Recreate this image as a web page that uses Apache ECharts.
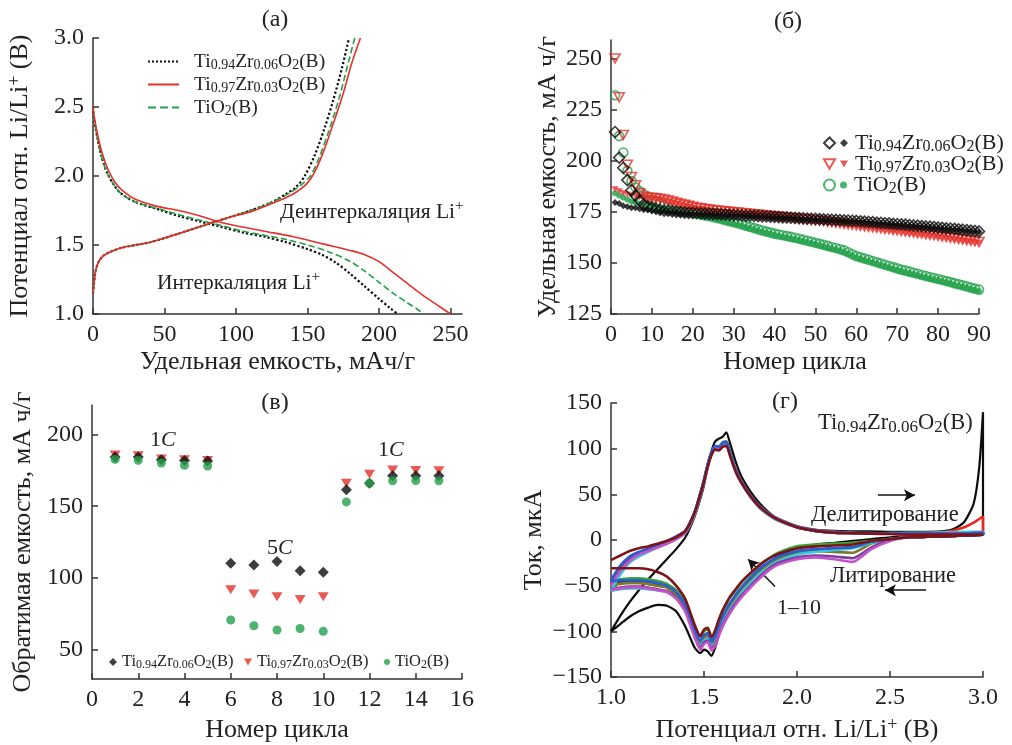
<!DOCTYPE html>
<html>
<head>
<meta charset="utf-8">
<title>TiO2(B) charts</title>
<style>
html,body{margin:0;padding:0;background:#fff;}
#main{width:1012px;height:745px;}
</style>
</head>
<body>
<div id="main"></div>
<script src="https://cdn.jsdelivr.net/npm/echarts@6/dist/echarts.min.js"></script>
<script>
// ---------- data ----------
// (a) charge / discharge profiles: [capacity mAh/g, potential V]
var dis94 = [[0,2.50],[1,2.40],[3,2.28],[6,2.14],[10,2.02],[15,1.93],[20,1.87],[30,1.81],[45,1.76],[60,1.71],[75,1.67],[90,1.63],[105,1.59],[120,1.56],[135,1.52],[150,1.47],[160,1.43],[170,1.37],[180,1.29],[190,1.20],[200,1.11],[208,1.04],[213,1.00]];
var dis97 = [[0,2.50],[1,2.42],[3,2.31],[6,2.18],[10,2.06],[15,1.96],[20,1.90],[30,1.83],[45,1.78],[60,1.75],[75,1.71],[87,1.67],[100,1.64],[120,1.60],[140,1.56],[160,1.51],[180,1.46],[190,1.43],[200,1.38],[210,1.30],[220,1.22],[230,1.14],[240,1.07],[250,1.00]];
var disTi = [[0,2.50],[1,2.40],[3,2.28],[6,2.14],[10,2.02],[15,1.93],[20,1.87],[30,1.81],[45,1.765],[60,1.72],[75,1.68],[90,1.64],[105,1.60],[120,1.57],[135,1.54],[150,1.50],[165,1.45],[180,1.38],[190,1.31],[200,1.23],[210,1.15],[220,1.08],[226,1.04],[231,1.00]];
var chg94 = [[0,1.15],[1,1.25],[2,1.32],[4,1.38],[7,1.42],[12,1.45],[20,1.48],[30,1.50],[40,1.52],[50,1.55],[65,1.60],[80,1.65],[95,1.70],[110,1.75],[125,1.81],[135,1.87],[142,1.92],[148,2.00],[155,2.15],[162,2.35],[168,2.55],[174,2.78],[179,3.00]];
var chg97 = [[0,1.15],[1,1.25],[2,1.32],[4,1.38],[7,1.42],[12,1.45],[20,1.48],[30,1.50],[40,1.52],[50,1.55],[65,1.60],[80,1.65],[95,1.70],[110,1.74],[125,1.80],[140,1.87],[150,1.95],[156,2.05],[162,2.20],[168,2.38],[175,2.60],[181,2.82],[187,3.00]];
var chgTi = [[0,1.15],[1,1.25],[2,1.32],[4,1.38],[7,1.42],[12,1.45],[20,1.48],[30,1.50],[40,1.52],[50,1.55],[65,1.60],[80,1.65],[95,1.70],[110,1.75],[125,1.81],[138,1.88],[146,1.94],[152,2.00],[158,2.13],[165,2.33],[172,2.56],[178,2.80],[183,3.00]];

// (b) cycling, 90 cycles, open = first set, filled = second set
var cycles = Array.from({length: 90}, function (_, i) { return i + 1; });
var b94open = [214,201.5,196.5,190.5,185.5,183,180.5,178.5,177.5,177,176.5,176,175.5,175.5,175.2,
  175.0,174.8,174.6,174.5,174.4,174.3,174.2,174.1,174.0,173.9,173.8,173.7,173.6,173.5,173.4,
  173.3,173.2,173.1,173.1,173.0,172.9,172.8,172.7,172.6,172.5,172.4,172.3,172.2,172.1,172.0,
  171.9,171.8,171.7,171.6,171.5,171.4,171.3,171.2,171.1,171.0,170.9,170.8,170.7,170.6,170.5,
  170.3,170.2,170.0,169.9,169.7,169.6,169.4,169.3,169.1,169.0,168.8,168.7,168.5,168.3,168.2,
  168.0,167.8,167.7,167.5,167.3,167.1,166.9,166.8,166.6,166.4,166.2,166.0,165.8,165.6,165.4];
var b94fill = [179.5,179.0,178.0,177.5,177.0,177.0,176.5,176.0,176.0,175.5,175.5,175.0,175.0,174.5,174.5,
  174.5,174.0,174.0,174.0,174.0,173.9,173.8,173.7,173.6,173.5,173.4,173.3,173.3,173.2,173.1,
  173.0,172.9,172.8,172.8,172.7,172.6,172.5,172.4,172.3,172.2,172.1,172.0,171.9,171.8,171.7,
  171.6,171.5,171.4,171.3,171.2,171.1,171.0,170.9,170.8,170.7,170.6,170.5,170.4,170.3,170.2,
  170.0,169.9,169.7,169.6,169.4,169.3,169.1,169.0,168.8,168.7,168.5,168.4,168.2,168.0,167.9,
  167.7,167.5,167.4,167.2,167.0,166.8,166.6,166.5,166.3,166.1,165.9,165.7,165.5,165.3,165.1];
var b97open = [250,231,212.5,198,192,188,184,182.5,182,181.8,181.6,181.4,181.0,180.5,180.0,
  179.4,178.9,178.4,177.9,177.4,177.0,176.7,176.4,176.1,175.8,175.6,175.4,175.2,175.0,174.8,
  174.6,174.4,174.2,174.0,173.8,173.6,173.4,173.2,173.0,172.8,172.6,172.4,172.2,172.0,171.8,
  171.6,171.4,171.2,171.0,170.8,170.6,170.4,170.1,169.9,169.6,169.4,169.1,168.9,168.6,168.4,
  168.1,167.9,167.6,167.4,167.1,166.9,166.6,166.4,166.1,165.9,165.6,165.3,165.1,164.8,164.5,
  164.3,164.0,163.7,163.5,163.2,162.9,162.6,162.3,162.0,161.7,161.4,161.1,160.8,160.5,160.2];
var b97fill = [186.0,185.0,184.0,183.5,183.0,182.5,182.2,182.0,181.7,181.5,181.2,181.0,180.5,180.0,179.5,
  179.0,178.5,178.0,177.5,177.0,176.6,176.3,176.0,175.7,175.4,175.2,175.0,174.8,174.6,174.4,
  174.2,174.0,173.8,173.6,173.4,173.2,173.0,172.8,172.6,172.4,172.2,172.0,171.8,171.6,171.4,
  171.2,171.0,170.8,170.6,170.4,170.2,170.0,169.7,169.5,169.2,169.0,168.7,168.5,168.2,168.0,
  167.7,167.5,167.2,167.0,166.7,166.5,166.2,166.0,165.7,165.5,165.2,164.9,164.7,164.4,164.1,
  163.9,163.6,163.3,163.1,162.8,162.5,162.2,161.9,161.6,161.3,161.0,160.7,160.4,160.1,159.8];
var bTiOpen = [232,212,204,195,190,187,185,183.5,182,181,180,179,178,177,176.5,
  175.6,175.3,175.0,174.7,174.4,174.0,173.6,173.2,172.8,172.4,171.9,171.4,170.9,170.4,169.9,
  169.4,168.8,168.2,167.6,167.0,166.4,165.8,165.3,164.8,164.3,163.9,163.5,163.1,162.7,162.3,
  161.8,161.3,160.8,160.3,159.8,159.3,158.8,158.3,157.8,157.3,156.7,156.1,155.2,154.2,153.3,
  152.7,152.1,151.5,150.9,150.3,149.7,149.1,148.5,147.9,147.3,146.7,146.2,145.7,145.2,144.7,
  144.1,143.6,143.1,142.6,142.1,141.6,141.1,140.6,140.0,139.5,139.0,138.5,137.9,137.4,136.9];
var bTiFill = [184.0,183.0,182.0,181.0,180.0,179.5,179.0,178.5,178.0,177.5,177.0,176.5,176.0,175.6,175.3,
  175.0,174.7,174.4,174.1,173.8,173.4,173.0,172.6,172.2,171.8,171.3,170.8,170.3,169.8,169.3,
  168.8,168.2,167.6,167.0,166.4,165.8,165.2,164.7,164.2,163.7,163.3,162.9,162.5,162.1,161.7,
  161.2,160.7,160.2,159.7,159.2,158.7,158.2,157.7,157.2,156.7,156.1,155.5,154.6,153.6,152.7,
  152.1,151.5,150.9,150.3,149.7,149.1,148.5,147.9,147.3,146.7,146.1,145.6,145.1,144.6,144.1,
  143.5,143.0,142.5,142.0,141.5,141.0,140.5,140.0,139.4,138.9,138.4,137.9,137.3,136.8,136.3];

// (c) rate capability
var rateCycles = [1,2,3,4,5,6,7,8,9,10,11,12,13,14,15];
var r94 = [184.3,184.3,182.5,182,181.6,110.2,109,111.3,105,103.9,161.5,166,171.2,171.2,171.2];
var r97 = [185.7,185.2,183,182.5,182,91.7,88.7,86.7,84.8,86.7,166,172.3,175.3,175,174.7];
var rTi = [182.7,182,180.2,178.6,178.1,70.5,66.5,63.5,64.6,62.6,153,166,167.7,168,167.7];

// (d) cyclic voltammetry, cycles 1-10: potential grid, anodic (up) and cathodic (dn) currents, uA
var cvV = [1.00,1.05,1.10,1.15,1.20,1.25,1.30,1.35,1.40,1.45,1.48,1.50,1.52,1.54,1.56,1.58,1.60,1.62,1.64,1.67,
  1.70,1.75,1.80,1.85,1.90,2.00,2.10,2.20,2.30,2.40,2.50,2.60,2.70,2.80,2.85,2.90,2.95,2.98,3.00];
var cvUp1 = [-100,-83,-68,-55,-43,-32,-21,-10,3,26,45,60,80,97,108,111,113,118,106,86,70,53,40,30,22,14,11,10,9.5,9.5,9,9,9,10,13,20,40,80,140];
var cvDn1 = [-100,-92,-84,-78,-74,-71,-72,-78,-95,-118,-124,-120,-122,-127,-118,-104,-92,-82,-74,-65,-57,-45,-34,-25,-17,-9,-5,-3,-1,1,3,4,4,5,5,6,7,8,9];
var cvUp2 = [-48,-33,-22,-16,-12,-8,-4,1,8,29,49,64,81,94,101,100,105,106,94,75,63,47,35,27,21,14,10,8,7.5,7,7,7,7.5,9,11,14,19,23,26];
var cvDn2 = [-48,-47,-47,-47,-48,-50,-52,-60,-74,-102,-113,-107,-105,-114,-108,-97,-87,-79,-72,-63,-55,-44,-34,-26,-20,-14,-11,-9,-8,-2,1,3,3.5,4,4.5,5,5.5,6,7];
var cvUp3 = [-44,-29,-19,-14,-10,-6,-2,3,10,31,51,66,83,96,103,102,107,108,96,77,65,49,37,29,23,15,11,9,8,7.5,7,7,7,7,7.5,7.5,8,8,8.5];
var cvDn3 = [-44,-43,-42,-42,-43,-45,-48,-55,-68,-95,-106,-100,-98,-107,-100,-88,-78,-70,-63,-55,-47,-37,-27,-20,-14,-7,-5,-4,-3,-1,1,3,3.5,4,4.5,5,5,5.5,6];
var cvUp4 = [-46,-31,-21,-15,-11,-7,-3,2,9,30,50,65,82,95,102,101,106,107,95,76,64,48,36,28,22,14,10,8,7.5,7,7,7,7,7,7,7,7.5,8,8];
var cvDn4 = [-46,-45,-45,-45,-46,-48,-51,-58,-72,-99,-111,-105,-103,-112,-106,-95,-85,-77,-70,-61,-53,-42,-33,-25,-19,-13,-11,-9,-8,-3,1,3,3.5,4,4.5,5,5,5.5,6];
var cvUp5 = [-45,-30,-20,-15,-11,-7,-3,2,9,30,50,65,82,94,101,100,105,106,94,76,64,48,36,28,22,14,10,8,7.5,7,7,7,7,7,7,7,7.5,8,8];
var cvDn5 = [-50,-48,-47,-47,-48,-50,-52,-60,-73,-100,-112,-106,-104,-113,-108,-98,-88,-80,-73,-64,-56,-45,-35,-27,-21,-15,-12,-13,-14,-4,1,3,3.5,4,4.5,5,5,5.5,6];
var cvUp6 = [-55,-38,-25,-18,-13,-8,-4,1,8,28,48,63,80,93,100,99,104,105,93,75,63,47,35,27,21,14,10,8,7.5,7,7.5,8,8,8.5,8.5,9,9,9,9];
var cvDn6 = [-56,-54,-53,-53,-54,-55,-57,-64,-77,-104,-116,-110,-108,-117,-112,-101,-91,-83,-76,-67,-58,-47,-37,-29,-23,-16,-13,-11,-9,-3,1,3,4,4.5,5,5.5,6,6.5,7];
var cvUp7 = [-47,-32,-21,-15,-11,-7,-3,2,9,30,50,65,82,95,102,101,106,107,95,77,65,49,37,29,23,15,11,9,8,7.5,7,7,7,7,7,7,7.5,8,8];
var cvDn7 = [-54,-52,-51,-51,-52,-54,-56,-63,-77,-105,-118,-112,-110,-119,-114,-103,-93,-85,-78,-69,-61,-50,-40,-31,-25,-19,-17,-18,-20,-8,0,3,3.5,4,4.5,5,5,5.5,6];
var cvUp8 = [-50,-34,-23,-16,-12,-8,-4,1,8,29,49,64,81,94,101,100,105,106,94,76,64,48,36,28,22,14,10,8,7.5,7,7,7,7,7,7,7,7.5,8,8];
var cvDn8 = [-55,-53,-52,-52,-53,-55,-57,-64,-79,-107,-120,-114,-112,-121,-116,-105,-95,-87,-80,-71,-63,-52,-42,-33,-27,-21,-19,-21,-24,-10,-1,3,3.5,4,4.5,5,5,5.5,6];
var cvUp9 = [-44,-28,-18,-13,-9,-5,-1,4,10,31,51,66,83,96,103,102,106,107,95,76,64,48,36,28,22,14,10,8,7.5,7,7,7,7,7,7,7,7.5,8,8];
var cvDn9 = [-45,-44,-44,-44,-45,-47,-50,-57,-71,-98,-110,-104,-102,-111,-105,-94,-84,-76,-69,-60,-52,-41,-31,-24,-18,-12,-10,-9,-8,-2,1,3,3.5,4,4.5,5,5,5.5,6];
var cvUp10 = [-22,-17,-12,-9,-7,-4,-1,3,10,30,50,64,80,93,99,98,102,103,92,75,63,48,36,28,22,14,10,8,7.5,7,6.5,6,6,6,6,6,6,6,6];
var cvDn10 = [-31,-31,-31,-31,-32,-35,-40,-50,-65,-93,-105,-98,-96,-106,-99,-87,-77,-69,-62,-54,-46,-36,-27,-20,-15,-9,-7,-6,-5,-1,1,3,3.5,4,4.5,5,5,5.5,6];
var cvUp = [cvUp1,cvUp2,cvUp3,cvUp4,cvUp5,cvUp6,cvUp7,cvUp8,cvUp9,cvUp10];
var cvDn = [cvDn1,cvDn2,cvDn3,cvDn4,cvDn5,cvDn6,cvDn7,cvDn8,cvDn9,cvDn10];
var cvColors = ['#0d0d0d','#e8281e','#3aa53a','#23318c','#7a7a28','#3cc8dc','#7b3f9b','#c455c8','#2b5fd0','#7d1418'];

// ---------- styling helpers ----------
var FONT = '"Liberation Serif", "Times New Roman", serif';
var INK = '#222';
var BLACK = '#0d0d0d', RED = '#e3312b', GREEN = '#22a04a';
var TRI_DOWN = 'path://M0,0L10,0L5,8.7Z';

var L94 = 'Ti{s|0.94}Zr{s|0.06}O{s|2}(B)';
var L97 = 'Ti{s|0.97}Zr{s|0.03}O{s|2}(B)';
var LTi = 'TiO{s|2}(B)';

function richSet(main, sub) {
  return {
    s: {fontFamily: FONT, fontSize: sub, color: INK, lineHeight: Math.round(sub * 0.9), verticalAlign: 'bottom'},
    sup: {fontFamily: FONT, fontSize: sub, color: INK, lineHeight: Math.round(sub * 0.9), verticalAlign: 'top'},
    i: {fontFamily: FONT, fontSize: main, color: INK, fontStyle: 'italic'}
  };
}

function axis(gi, o) {
  var a = {
    type: 'value', gridIndex: gi, min: o.min, max: o.max,
    name: o.name, nameLocation: 'middle', nameGap: o.nameGap,
    nameTextStyle: {fontFamily: FONT, fontSize: 26, color: INK, lineHeight: 28, rich: richSet(26, 18)},
    axisLine: {show: true, onZero: false, lineStyle: {color: '#333', width: 1.5}},
    axisTick: {show: true, inside: true, length: 6, lineStyle: {color: '#333', width: 1.5}},
    axisLabel: {fontFamily: FONT, fontSize: 24, color: INK, margin: 9},
    splitLine: {show: false}
  };
  if (o.interval) a.interval = o.interval;
  if (o.fmt) a.axisLabel.formatter = o.fmt;
  if (o.ticks) { a.axisLabel.customValues = o.ticks; a.axisTick.customValues = o.ticks; }
  return a;
}

function legendOne(name, left, top, iw, ih, text, main, sub, padLeft, hideSymbol) {
  var l = {
    data: [name], left: left, top: top, orient: 'vertical', padding: 0,
    itemWidth: iw, itemHeight: ih, selectedMode: false,
    formatter: function () { return text; },
    textStyle: {fontFamily: FONT, fontSize: main, color: INK, lineHeight: Math.round(main * 1.1),
      padding: [0, 0, 0, padLeft || 0], rich: richSet(main, sub)}
  };
  if (hideSymbol) l.itemStyle = {opacity: 0};
  return l;
}

function txt(x, y, text, size, sub, align) {
  return {
    type: 'text', x: x, y: y, silent: true,
    style: {text: text, fontFamily: FONT, fontSize: size, fill: INK, lineHeight: Math.round(size * 1.2),
      align: align || 'left', verticalAlign: 'middle', rich: richSet(size, sub || Math.round(size * 0.72))}
  };
}

function pairs(xs, ys) { return xs.map(function (x, i) { return [x, ys[i]]; }); }

var minus = function (v) { return v < 0 ? '\u2212' + Math.abs(v) : String(v); };
var oneDec = function (v) { return v.toFixed(1); };

// ---------- series ----------
var series = [];

// (a)
[[dis94, chg94, 'a94', BLACK, 'dotted', 2.2], [disTi, chgTi, 'aTi', GREEN, 'dashed', 1.6], [dis97, chg97, 'a97', RED, 'solid', 1.6]]
  .forEach(function (m) {
    [m[0], m[1]].forEach(function (d) {
      series.push({type: 'line', name: m[2], xAxisIndex: 0, yAxisIndex: 0, data: d, symbol: 'none',
        smooth: 0.3, lineStyle: {color: m[3], type: m[4], width: m[5]}, itemStyle: {color: m[3]}});
    });
  });

// (b)
function openSym(name, data, sym, color, size) {
  return {type: 'scatter', name: name, xAxisIndex: 1, yAxisIndex: 1, data: pairs(cycles, data),
    symbol: sym, symbolSize: size,
    itemStyle: {color: 'transparent', borderColor: color, borderWidth: 1.6}};
}
function fillSym(name, data, sym, color, size, xi, yi, xs) {
  return {type: 'scatter', name: name, xAxisIndex: xi, yAxisIndex: yi, data: pairs(xs, data),
    symbol: sym, symbolSize: size, itemStyle: {color: color}};
}
series.push(openSym('oTi', bTiOpen, 'circle', GREEN, 9));
series.push(fillSym('fTi', bTiFill, 'circle', GREEN, 6, 1, 1, cycles));
series.push(openSym('o97', b97open, TRI_DOWN, RED, [10, 9]));
series.push(fillSym('f97', b97fill, TRI_DOWN, RED, [7, 6], 1, 1, cycles));
series.push(openSym('o94', b94open, 'diamond', BLACK, 11));
series.push(fillSym('f94', b94fill, 'diamond', BLACK, 7, 1, 1, cycles));

// (c)
series.push(fillSym('c97', r97, TRI_DOWN, RED, [11, 9], 2, 2, rateCycles));
series.push(fillSym('c94', r94, 'diamond', BLACK, 11, 2, 2, rateCycles));
series.push(fillSym('cTi', rTi, 'circle', GREEN, 9, 2, 2, rateCycles));

// (d)
cvUp.forEach(function (up, k) {
  var loop = pairs(cvV, up).concat(pairs(cvV, cvDn[k]).reverse());
  var s = {type: 'line', name: 'cv' + (k + 1), xAxisIndex: 3, yAxisIndex: 3, data: loop, symbol: 'none',
    smooth: 0.2, lineStyle: {color: cvColors[k], width: k === 0 ? 2.2 : 2.6}, z: 2 + k};
  if (k === 9) {
    s.markLine = {silent: true, symbol: ['none', 'arrow'], symbolSize: [9, 11], label: {show: false},
      lineStyle: {color: '#111', width: 1.5, type: 'solid'},
      data: [
        [{coord: [2.435, 49]}, {coord: [2.634, 49]}],
        [{coord: [2.694, -55]}, {coord: [2.473, -55]}],
        [{coord: [1.882, -51]}, {coord: [1.737, -21]}]
      ]};
  }
  series.push(s);
});

var option = {
  animation: false,
  backgroundColor: '#fff',
  grid: [
    {left: 93, top: 38, width: 369, height: 276},
    {left: 611, top: 40, width: 368, height: 274},
    {left: 92, top: 405, width: 370, height: 277},
    {left: 611, top: 403, width: 372, height: 276}
  ],
  xAxis: [
    axis(0, {min: 0, max: 258, ticks: [0, 50, 100, 150, 200, 250], name: 'Удельная емкость, мАч/г', nameGap: 34}),
    axis(1, {min: 0, max: 90, interval: 10, name: 'Номер цикла', nameGap: 34}),
    axis(2, {min: 0, max: 16, interval: 2, name: 'Номер цикла', nameGap: 37}),
    axis(3, {min: 1, max: 3, interval: 0.5, fmt: oneDec, name: 'Потенциал отн. Li/Li{sup|+} (B)', nameGap: 39})
  ],
  yAxis: [
    axis(0, {min: 1, max: 3, interval: 0.5, fmt: oneDec, name: 'Потенциал отн. Li/Li{sup|+} (B)', nameGap: 59}),
    axis(1, {min: 125, max: 259, ticks: [125, 150, 175, 200, 225, 250], name: 'Удельная емкость, мА ч/г', nameGap: 46}),
    axis(2, {min: 29.3, max: 220.7, ticks: [50, 100, 150, 200], name: 'Обратимая емкость, мА ч/г', nameGap: 55}),
    axis(3, {min: -150, max: 150, interval: 50, fmt: minus, name: 'Ток, мкА', nameGap: 58})
  ],
  legend: [
    legendOne('a94', 147, 51, 31, 10, L94, 19.5, 14, 10, true),
    legendOne('a97', 147, 74, 31, 10, L97, 19.5, 14, 10, true),
    legendOne('aTi', 147, 97, 31, 10, LTi, 19.5, 14, 10, true),
    legendOne('o94', 823, 131, 11, 11, ' ', 22, 16),
    legendOne('o97', 823, 152, 11, 10, ' ', 22, 16),
    legendOne('oTi', 823, 173, 11, 11, ' ', 22, 16),
    legendOne('f94', 840, 131, 8, 8, L94, 22, 16, 2),
    legendOne('f97', 840, 152, 8, 7, L97, 22, 16, 2),
    legendOne('fTi', 840, 173, 7, 7, LTi, 22, 16, 2),
    legendOne('c94', 109, 653, 8, 8, L94, 16.5, 12),
    legendOne('c97', 244, 653, 8, 7, L97, 16.5, 12),
    legendOne('cTi', 384, 653, 6, 6, LTi, 16.5, 12)
  ],
  graphic: [
    txt(275, 20, '(a)', 24, 16, 'center'),
    txt(788, 22, '(б)', 24, 16, 'center'),
    txt(275, 403, '(в)', 24, 16, 'center'),
    txt(785, 402, '(г)', 24, 16, 'center'),
    txt(280, 212, 'Деинтеркаляция Li{sup|+}', 21.5, 15),
    txt(157, 283, 'Интеркаляция Li{sup|+}', 21.5, 15),
    txt(150, 440, '1{i|C}', 22),
    txt(267, 548, '5{i|C}', 22),
    txt(378, 450, '1{i|C}', 22),
    txt(818, 423, L94, 22.5, 17),
    txt(811, 515, 'Делитирование', 22.5),
    txt(830, 576, 'Литирование', 22.5),
    txt(777, 608, '1\u201310', 22)
  ],
  series: series
};

var chart = echarts.init(document.getElementById('main'));
chart.setOption(option);
</script>
</body>
</html>
